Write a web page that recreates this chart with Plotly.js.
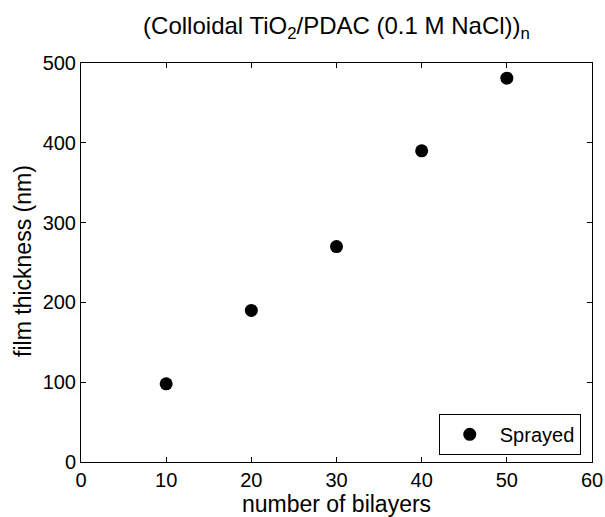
<!DOCTYPE html>
<html>
<head>
<meta charset="utf-8">
<script src="https://cdn.plot.ly/plotly-3.0.1.min.js"></script>
<style>html,body{margin:0;padding:0;background:#fff;}#chart{width:605px;height:517px;}</style>
</head>
<body>
<div id="chart"></div>
<script>
const bilayers = [10, 20, 30, 40, 50];
const thickness = [98, 190, 270, 390, 481];
const seriesName = "Sprayed";
const xTicks = [0, 10, 20, 30, 40, 50, 60];
const yTicks = [0, 100, 200, 300, 400, 500];
const xTitle = "number of bilayers";
const yTitle = "film thickness (nm)";
const chartTitle = "(Colloidal TiO<sub>2</sub>/PDAC (0.1 M NaCl))<sub>n</sub>";

const FONT = "Liberation Sans, Arial, Helvetica, sans-serif";

const trace = {
  x: bilayers,
  y: thickness,
  name: seriesName,
  type: "scatter",
  mode: "markers",
  marker: {symbol: "circle", size: 13, color: "#000", line: {width: 0}},
  showlegend: true
};

const axisCommon = {
  showline: true, linecolor: "#000", linewidth: 1,
  mirror: "ticks", ticks: "inside", ticklen: 5, tickwidth: 1, tickcolor: "#000",
  showgrid: false, zeroline: false,
  tickfont: {family: FONT, size: 20, color: "#000"}
};

const layout = {
  width: 605, height: 517,
  margin: {l: 81, r: 13, t: 63, b: 55},
  paper_bgcolor: "#fff", plot_bgcolor: "#fff",
  font: {family: FONT, color: "#000", size: 20},
  title: {
    text: chartTitle,
    font: {family: FONT, size: 24, color: "#000"},
    xref: "paper", x: 0.5, xanchor: "center",
    yref: "container", y: 0.951, yanchor: "middle"
  },
  xaxis: Object.assign({}, axisCommon, {
    range: [0, 60], tickvals: xTicks, ticktext: xTicks.map(String),
    title: {text: xTitle, font: {family: FONT, size: 23, color: "#000"}, standoff: 2}
  }),
  yaxis: Object.assign({}, axisCommon, {
    range: [0, 500], tickvals: yTicks, ticktext: yTicks.map(String)
  }),
  annotations: [{
    text: yTitle, textangle: -90,
    xref: "paper", yref: "paper", x: 0, y: 0.504,
    xanchor: "center", yanchor: "middle", xshift: -58,
    showarrow: false,
    font: {family: FONT, size: 23, color: "#000"}
  }],
  legend: {
    x: 0.978, xanchor: "right", y: 0.018, yanchor: "bottom",
    bordercolor: "#000", borderwidth: 1, bgcolor: "#fff",
    font: {family: FONT, size: 20, color: "#000"},
    itemwidth: 50
  },
  showlegend: true
};

Plotly.newPlot("chart", [trace], layout, {displayModeBar: false, staticPlot: true});
</script>
</body>
</html>
